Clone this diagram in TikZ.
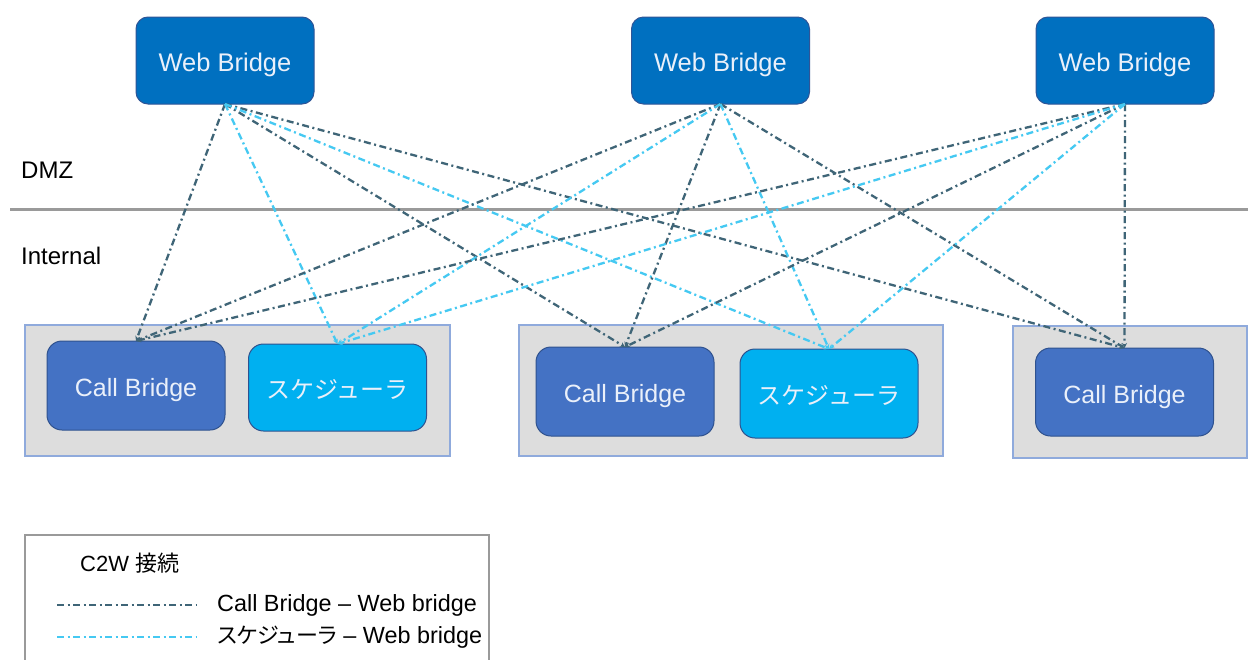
\documentclass[tikz,border=0pt]{standalone}
\usepackage{fontspec}
\setmainfont{Liberation Sans}
\newfontfamily\cjk{Noto Sans CJK JP}
\newfontfamily\cjkp[RawFeature=+palt]{Noto Sans CJK JP}
\usetikzlibrary{arrows.meta}
\definecolor{wbfill}{HTML}{0070C0}
\definecolor{wbdraw}{HTML}{2F5597}
\definecolor{cbfill}{HTML}{4472C4}
\definecolor{cbdraw}{HTML}{2F528F}
\definecolor{scfill}{HTML}{00B0F0}
\definecolor{grpfill}{HTML}{DDDDDD}
\definecolor{grpdraw}{HTML}{8FAADC}
\definecolor{boxtext}{HTML}{EAF0FA}
\definecolor{cbline}{HTML}{3F6577}
\definecolor{scline}{HTML}{45C9F2}
\definecolor{sepgray}{HTML}{9A9A9A}
\tikzset{
  x=1pt, y=-1pt,
  boxbase/.style={line width=1pt, inner sep=0pt, outer sep=0pt, text=boxtext,
    text height=22pt, text depth=0pt},
  wbbox/.style={boxbase, draw=wbdraw, fill=wbfill, rounded corners=12pt,
    minimum width=178pt, minimum height=87pt, font=\fontsize{25.5}{28}\selectfont},
  cbbox/.style={boxbase, draw=cbdraw, fill=cbfill, rounded corners=15pt,
    minimum width=178pt, minimum height=88pt, font=\fontsize{25}{28}\selectfont},
  scbox/.style={boxbase, draw=cbdraw, fill=scfill, rounded corners=15pt,
    minimum width=178pt, minimum height=88pt, font=\cjk\fontsize{24}{28}\selectfont},
  grpbox/.style={draw=grpdraw, line width=1.5pt, fill=grpfill},
  cblink/.style={draw=cbline, line width=2.3pt, dash pattern=on 7pt off 3.5pt on 2pt off 3.5pt},
  sclink/.style={draw=scline, line width=2.3pt, dash pattern=on 7pt off 3.5pt on 2pt off 3.5pt},
  tip/.style={-{Stealth[length=5pt,width=5pt]}},
  lbl/.style={anchor=west, inner sep=0pt, font=\fontsize{23.4}{28}\selectfont},
}
\begin{document}
\begin{tikzpicture}
\useasboundingbox (0,0) rectangle (1248,659);
\fill[white] (0,0) rectangle (1248,659);

% zone separator
\draw[sepgray, line width=3pt] (10,209) -- (1248,209);
\node[lbl, font=\fontsize{24}{28}\selectfont] (dmz) at (21,170) {DMZ};
\node[lbl, font=\fontsize{24}{28}\selectfont] (internal) at (21,256) {Internal};

% groups
\draw[grpbox] (25,325) rectangle (450,456);
\draw[grpbox] (519,325) rectangle (943,456);
\draw[grpbox] (1013,326) rectangle (1247,458);

% web bridges
\node[wbbox] (wb1) at (225,60.5) {Web Bridge};
\node[wbbox] (wb2) at (720.5,60.5) {Web Bridge};
\node[wbbox] (wb3) at (1125,60.5) {Web Bridge};

% call bridges and schedulers
\node[cbbox, minimum height=89pt] (cb1) at (136,385.5) {Call Bridge};
\node[scbox, minimum height=87pt] (sc1) at (337.5,387.5) {スケジューラ};
\node[cbbox, minimum height=89pt] (cb2) at (625,391.5) {Call Bridge};
\node[scbox, minimum height=89pt] (sc2) at (829,393.5) {スケジューラ};
\node[cbbox] (cb3) at (1124.5,392) {Call Bridge};

% connections
\foreach \w in {wb1,wb2,wb3}{
  \foreach \c in {cb1,cb2,cb3}{
    \draw[cblink, tip] (\w.south) -- (\c.north);
  }
  \foreach \s in {sc1,sc2}{
    \draw[sclink, tip] (\w.south) -- (\s.north);
  }
}

% legend
\draw[sepgray, line width=1.5pt] (25,670) -- (25,535) -- (489,535) -- (489,670);
\node[lbl, font=\fontsize{22}{28}\selectfont] (legtitle) at (80,563) {C2W {\cjk 接続}};
\coordinate (l1a) at (57,605);
\coordinate (l1b) at (197,605);
\coordinate (l2a) at (57,637);
\coordinate (l2b) at (197,637);
\draw[cblink] (l1a) -- (l1b);
\draw[sclink] (l2a) -- (l2b);
\node[lbl] (leg1) at (217,605) {Call Bridge – Web bridge};
\node[lbl] (leg2) at (217,637) {{\cjkp\fontsize{22}{28}\selectfont スケジューラ} – Web bridge};
\end{tikzpicture}
\end{document}
